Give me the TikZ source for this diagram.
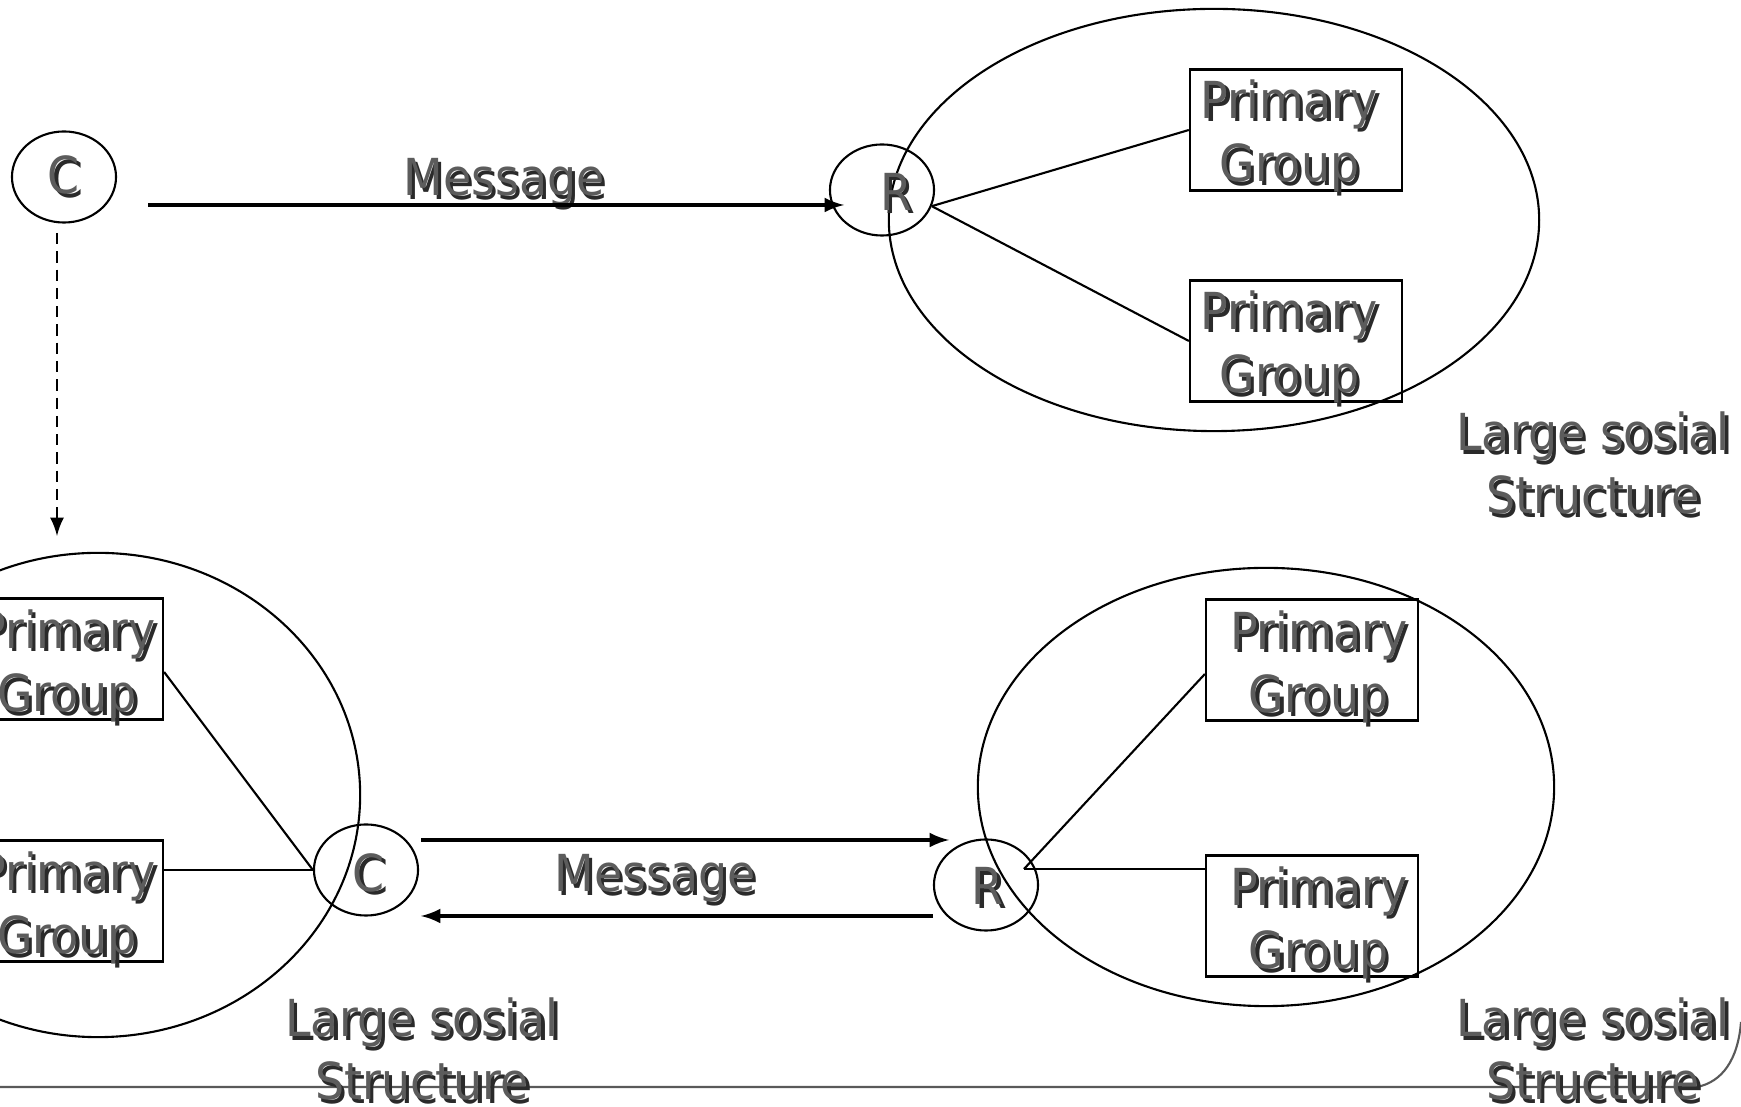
\documentclass[tikz,border=0pt]{standalone}
\usepackage{fontspec}
\setmainfont{DejaVu Sans}[FakeStretch=0.9]
\usepackage{xcolor}
\usepackage{tikz}
\usetikzlibrary{arrows}
\usetikzlibrary{shapes.geometric}

\definecolor{textgray}{HTML}{5C5C5C}
\definecolor{shadowgray}{HTML}{2A2A2A}
\definecolor{framegray}{HTML}{595959}
\newcommand{\shd}[1]{\rlap{\hspace{1pt}\raisebox{-1pt}{\color{shadowgray}#1}}{\color{textgray}#1}}
\newcommand{\nudge}[3]{\raisebox{#2}[\height][\depth]{\hspace*{#1}\shd{#3}}}
\newcommand{\pglines}[2]{\nudge{#1}{#2}{Primary}\\\nudge{#1}{#2}{Group}}

\tikzset{
  slidefont/.style={font=\fontsize{14.5}{18}\selectfont},
  actor/.style={draw, ellipse, minimum width=1.04cm, minimum height=0.91cm, inner sep=0pt, slidefont},
  society/.style={draw, ellipse, inner sep=0pt},
  group/.style={draw, minimum width=2.12cm, minimum height=1.21cm, inner sep=0pt, align=center, slidefont},
  caption/.style={align=center, inner sep=0pt, slidefont},
  msg/.style={-latex, line width=0.9pt},
}

\begin{document}
\begin{tikzpicture}[x=0.01cm, y=-0.01cm, line width=0.6pt]
    \useasboundingbox (0,0) rectangle (1741,1107);
    \draw[framegray] (0,1087) -- (1697,1087)
      .. controls (1722,1082) and (1738,1060) .. (1741,1022);

    % large social structures
    \node[society, minimum width=6.50cm, minimum height=4.22cm] (bigTop) at (1214,220) {};
    \node[society, minimum width=5.24cm, minimum height=4.84cm] (bigLeft) at (98,795) {};
    \node[society, minimum width=5.76cm, minimum height=4.38cm] (bigRight) at (1266,787) {};

    % top: one-way message
    \node[actor] (cTop) at (64,177) {\shd{C}};
    \node[actor] (rTop) at (882,190) {\nudge{8pt}{-1pt}{R}};
    \node[group] (pgTopA) at (1296,130) {\pglines{-3.8pt}{-2.2pt}};
    \node[group] (pgTopB) at (1296,341) {\pglines{-3.8pt}{-2.2pt}};
    \node[caption] (msgTop) at (504,184) {\shd{Message}};
    \node[caption] (lssTop) at (1593,465) {\shd{Large sosial}\\\shd{Structure}};

    \coordinate (mTopS) at (148,205);
    \coordinate (mTopE) at (844,205);
    \draw[msg] (mTopS) -- (mTopE);
    \draw (rTop.-18) -- (pgTopA.west);
    \draw (rTop.-18) -- (pgTopB.west);

    \coordinate (dashS) at (57,233);
    \coordinate (dashE) at (57,536);
    \draw[-latex, line width=0.8pt, dash pattern=on 3.2pt off 2pt] (dashS) -- (dashE);

    % bottom: two-way message
    \node[actor] (cBot) at (366,870) {\nudge{1.5pt}{-1.3pt}{C}};
    \node[actor] (rBot) at (986,885) {\nudge{1pt}{-0.8pt}{R}};
    \node[group] (pgLeftA) at (57,659) {\pglines{5.7pt}{-2.5pt}};
    \node[group] (pgLeftB) at (57,901) {\pglines{5.7pt}{-2.5pt}};
    \node[group] (pgRightA) at (1312,660) {\pglines{3.8pt}{-2.5pt}};
    \node[group] (pgRightB) at (1312,916) {\pglines{3.8pt}{-2.5pt}};
    \node[caption] (msgBot) at (655,880) {\shd{Message}};
    \node[caption] (lssLeft) at (422,1051) {\shd{Large sosial}\\\shd{Structure}};
    \node[caption] (lssRight) at (1593,1051) {\shd{Large sosial}\\\shd{Structure}};

    \coordinate (mOutS) at (421,840);
    \coordinate (mOutE) at (949,840);
    \coordinate (mBackS) at (933,916);
    \coordinate (mBackE) at (421,916);
    \draw[msg] (mOutS) -- (mOutE);
    \draw[msg] (mBackS) -- (mBackE);

    \draw ([yshift=-0.13cm]pgLeftA.east) -- (cBot.west);
    \draw (cBot.west -| pgLeftB.east) -- (cBot.west);

    \coordinate (rJoin) at (1024,869);
    \draw (rJoin) -- ([yshift=-0.14cm]pgRightA.west);
    \draw (rJoin) -- (rJoin -| pgRightB.west);
  \end{tikzpicture}
\end{document}
